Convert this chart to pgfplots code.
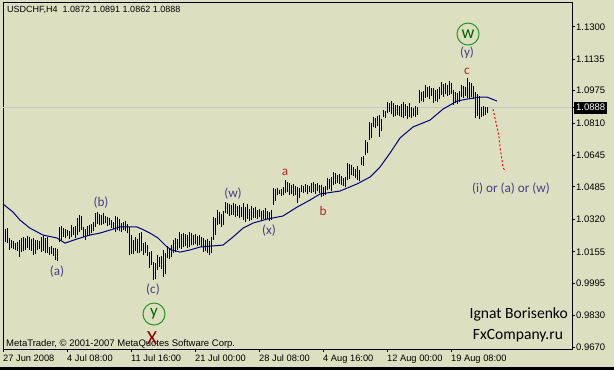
\documentclass[border=0pt]{standalone}
\usepackage{fontspec}
\setmainfont{Liberation Sans}
\newfontfamily\calib{Carlito}
\usepackage{pgfplots}
\pgfplotsset{compat=1.18}
\usepackage{pgfplotstable}
\definecolor{bg}{RGB}{221,224,192}
\definecolor{wave}{RGB}{72,61,139}
\definecolor{wred}{RGB}{178,34,34}
\definecolor{cgreen}{RGB}{34,150,34}
\definecolor{tgreen}{RGB}{0,100,0}
\definecolor{xred}{RGB}{139,0,0}
\definecolor{ma}{RGB}{0,0,128}

\pgfplotstableread{
i lo hi
0 1.0214 1.0265
1 1.0204 1.0270
2 1.0199 1.0275
3 1.0164 1.0225
4 1.0174 1.0214
5 1.0169 1.0209
6 1.0164 1.0199
7 1.0159 1.0204
8 1.0128 1.0214
9 1.0153 1.0225
10 1.0158 1.0230
11 1.0164 1.0225
12 1.0174 1.0235
13 1.0164 1.0230
14 1.0159 1.0220
15 1.0138 1.0225
16 1.0143 1.0214
17 1.0164 1.0214
18 1.0169 1.0209
19 1.0153 1.0230
20 1.0158 1.0235
21 1.0148 1.0225
22 1.0148 1.0230
23 1.0138 1.0179
24 1.0143 1.0184
25 1.0133 1.0174
26 1.0112 1.0174
27 1.0107 1.0169
28 1.0204 1.0281
29 1.0214 1.0286
30 1.0230 1.0275
31 1.0225 1.0270
32 1.0235 1.0265
33 1.0220 1.0260
34 1.0230 1.0291
35 1.0240 1.0281
36 1.0225 1.0286
37 1.0240 1.0326
38 1.0255 1.0342
39 1.0265 1.0337
40 1.0230 1.0281
41 1.0214 1.0270
42 1.0235 1.0286
43 1.0240 1.0291
44 1.0250 1.0296
45 1.0260 1.0306
46 1.0281 1.0352
47 1.0296 1.0357
48 1.0291 1.0347
49 1.0291 1.0342
50 1.0296 1.0352
51 1.0301 1.0337
52 1.0286 1.0331
53 1.0291 1.0326
54 1.0275 1.0316
55 1.0270 1.0306
56 1.0255 1.0337
57 1.0265 1.0331
58 1.0260 1.0321
59 1.0255 1.0301
60 1.0265 1.0306
61 1.0260 1.0311
62 1.0250 1.0296
63 1.0138 1.0281
64 1.0143 1.0240
65 1.0143 1.0214
66 1.0158 1.0230
67 1.0148 1.0220
68 1.0148 1.0250
69 1.0158 1.0255
70 1.0138 1.0199
71 1.0148 1.0204
72 1.0133 1.0189
73 1.0072 1.0153
74 1.0087 1.0158
75 1.0011 1.0102
76 1.0016 1.0097
77 1.0061 1.0138
78 1.0077 1.0128
79 1.0067 1.0133
80 1.0026 1.0164
81 1.0041 1.0148
82 1.0123 1.0184
83 1.0117 1.0174
84 1.0128 1.0189
85 1.0148 1.0214
86 1.0153 1.0225
87 1.0164 1.0220
88 1.0174 1.0255
89 1.0169 1.0245
90 1.0179 1.0250
91 1.0184 1.0245
92 1.0174 1.0240
93 1.0179 1.0255
94 1.0189 1.0250
95 1.0189 1.0240
96 1.0194 1.0245
97 1.0184 1.0235
98 1.0189 1.0240
99 1.0179 1.0230
100 1.0153 1.0225
101 1.0158 1.0214
102 1.0148 1.0220
103 1.0138 1.0209
104 1.0148 1.0230
105 1.0214 1.0331
106 1.0240 1.0326
107 1.0291 1.0367
108 1.0296 1.0357
109 1.0281 1.0347
110 1.0291 1.0362
111 1.0352 1.0408
112 1.0347 1.0403
113 1.0337 1.0398
114 1.0342 1.0393
115 1.0342 1.0403
116 1.0331 1.0398
117 1.0337 1.0388
118 1.0326 1.0393
119 1.0331 1.0382
120 1.0316 1.0403
121 1.0306 1.0382
122 1.0321 1.0398
123 1.0311 1.0372
124 1.0316 1.0388
125 1.0326 1.0377
126 1.0326 1.0382
127 1.0321 1.0367
128 1.0331 1.0372
129 1.0316 1.0362
130 1.0321 1.0367
131 1.0316 1.0377
132 1.0321 1.0362
133 1.0311 1.0357
134 1.0316 1.0367
135 1.0393 1.0479
136 1.0413 1.0474
137 1.0443 1.0479
138 1.0449 1.0469
139 1.0438 1.0474
140 1.0443 1.0484
141 1.0454 1.0520
142 1.0459 1.0510
143 1.0443 1.0505
144 1.0449 1.0494
145 1.0438 1.0500
146 1.0443 1.0489
147 1.0403 1.0484
148 1.0428 1.0479
149 1.0459 1.0494
150 1.0454 1.0489
151 1.0459 1.0500
152 1.0449 1.0494
153 1.0459 1.0489
154 1.0454 1.0505
155 1.0459 1.0510
156 1.0449 1.0500
157 1.0464 1.0505
158 1.0454 1.0494
159 1.0433 1.0494
160 1.0438 1.0484
161 1.0443 1.0489
162 1.0469 1.0530
163 1.0474 1.0525
164 1.0464 1.0535
165 1.0494 1.0561
166 1.0500 1.0556
167 1.0505 1.0545
168 1.0500 1.0550
169 1.0494 1.0540
170 1.0489 1.0530
171 1.0484 1.0535
172 1.0520 1.0606
173 1.0525 1.0601
174 1.0545 1.0596
175 1.0540 1.0586
176 1.0530 1.0576
177 1.0520 1.0591
178 1.0515 1.0570
179 1.0596 1.0637
180 1.0591 1.0642
181 1.0647 1.0723
182 1.0657 1.0713
183 1.0723 1.0815
184 1.0733 1.0810
185 1.0790 1.0840
186 1.0785 1.0835
187 1.0795 1.0845
188 1.0739 1.0851
189 1.0769 1.0830
190 1.0840 1.0876
191 1.0835 1.0871
192 1.0861 1.0917
193 1.0866 1.0912
194 1.0856 1.0922
195 1.0840 1.0912
196 1.0845 1.0902
197 1.0851 1.0902
198 1.0845 1.0897
199 1.0840 1.0907
200 1.0835 1.0917
201 1.0845 1.0907
202 1.0830 1.0897
203 1.0840 1.0912
204 1.0835 1.0891
205 1.0845 1.0886
206 1.0840 1.0896
207 1.0851 1.0891
208 1.0912 1.0978
209 1.0922 1.0968
210 1.0917 1.0973
211 1.0937 1.1003
212 1.0942 1.0993
213 1.0932 1.0998
214 1.0947 1.0988
215 1.0912 1.0988
216 1.0922 1.0978
217 1.0917 1.0983
218 1.0932 1.0993
219 1.0952 1.1019
220 1.0942 1.1008
221 1.0957 1.1013
222 1.0947 1.1003
223 1.0952 1.1024
224 1.0957 1.1013
225 1.0902 1.0978
226 1.0912 1.0968
227 1.0907 1.0963
228 1.0917 1.0973
229 1.0942 1.1003
230 1.0937 1.0998
231 1.0947 1.0993
232 1.0937 1.1039
233 1.0932 1.1019
234 1.0942 1.1013
235 1.0932 1.0998
236 1.0835 1.0968
237 1.0845 1.0958
238 1.0830 1.0947
239 1.0840 1.0891
240 1.0845 1.0896
241 1.0851 1.0891
242 1.0862 1.0891
}\bars

\pgfplotstableread{
i p
0 1.0398
5 1.0357
8.5 1.0316
13.5 1.0275
20 1.0240
27 1.0225
31 1.0199
37 1.0220
43.5 1.0240
48.5 1.0250
58.5 1.0281
67 1.0281
69.5 1.0270
73.5 1.0250
77.5 1.0225
82 1.0179
84.5 1.0164
88.5 1.0153
93.5 1.0164
98.5 1.0179
110 1.0189
115 1.0230
120 1.0275
125 1.0301
132 1.0321
140 1.0337
147 1.0382
153.5 1.0418
158.5 1.0449
168.5 1.0464
177 1.0500
183.5 1.0535
188.5 1.0586
193.5 1.0657
198.5 1.0734
205 1.0790
213.5 1.0825
220 1.0881
227 1.0922
232 1.0932
238.5 1.0942
242 1.0942
247 1.0922
}\mavg

\pgfplotstableread{
i p
245 1.0881
246 1.0835
247 1.0790
248 1.0739
248.5 1.0688
249.5 1.0622
250 1.0581
251.5 1.0566
}\proj

\begin{document}
\begin{tikzpicture}
\path[use as bounding box] (-3bp,-21bp) rectangle (611bp,349bp);
\fill[bg] (-3bp,-21bp) rectangle (611bp,349bp);
\fill[black] (-3bp,-21bp) rectangle (611bp,-18bp);
\begin{axis}[
  at={(0,0)}, anchor=south west,
  scale only axis, width=569bp, height=346bp,
  xmin=0, xmax=284.5, ymin=0.9660, ymax=1.1421,
  clip=false,
  axis line style={black, line width=1bp},
  tick align=outside,
  major tick length=3bp,
  tick style={black, line width=1bp},
  xtick pos=bottom,
  xtick={0,32,64,96,128,160,192,224},
  xticklabels={27 Jun 2008, 4 Jul 08:00, 11 Jul 16:00, 21 Jul 00:00, 28 Jul 08:00, 4 Aug 16:00, 12 Aug 00:00, 19 Aug 08:00},
  xticklabel style={anchor=north west, font=\fontsize{9.3bp}{10bp}\selectfont, inner sep=0pt, yshift=-2.5bp},
  ytick pos=right, yticklabel pos=right,
  ytick={0.9670,0.9830,0.9995,1.0155,1.0320,1.0485,1.0645,1.0810,1.0975,1.1135,1.1300},
  yticklabels={0.9670,0.9830,0.9995,1.0155,1.0320,1.0485,1.0645,1.0810,1.0975,1.1135,1.1300},
  yticklabel style={anchor=west, font=\fontsize{9.5bp}{10bp}\selectfont, inner sep=0pt, xshift=1bp},
  extra y ticks={1.0888},
  extra y tick labels={1.0888},
  extra y tick style={grid=major, major grid style={black!22, line width=1bp},
    yticklabel style={fill=black, text=white, inner xsep=2bp, inner ysep=2.5bp, xshift=-2bp}},
]
\addplot[only marks, mark=*, mark size=0pt, mark options={draw=none, fill=none}, forget plot,
  error bars/.cd, y dir=plus, y explicit,
  error bar style={draw=black, line width=1bp}, error mark=none]
  table[x=i, y=lo, y error expr=\thisrow{hi}-\thisrow{lo}] {\bars};
\addplot[ma, line width=1bp, mark=none] table[x=i, y=p] {\mavg};
\addplot[red, line width=1bp, mark=none, dash pattern=on 2bp off 2bp] table[x=i, y=p] {\proj};

\node[anchor=west, font=\fontsize{9bp}{10bp}\selectfont, inner sep=0pt] at (axis cs:2,1.1385) {USDCHF,H4\ \ 1.0872 1.0891 1.0862 1.0888};
\node[anchor=west, font=\fontsize{9.5bp}{10bp}\selectfont, inner sep=0pt] at (axis cs:1.5,0.9685) {MetaTrader, © 2001-2007 MetaQuotes Software Corp.};

\tikzset{wv/.style={font=\calib\fontsize{13.2bp}{14bp}\selectfont, inner sep=0pt}}
\node[wv, text=wave] at (axis cs:49,1.0403) {(b)};
\node[wv, text=wave] at (axis cs:27,1.0052) {(a)};
\node[wv, text=wave] at (axis cs:75,0.9960) {(c)};
\node[wv, text=wave] at (axis cs:115,1.0449) {(w)};
\node[wv, text=wave] at (axis cs:133,1.0265) {(x)};
\node[wv, text=wave] at (axis cs:232,1.1166) {(y)};
\node[wv, text=wred] at (axis cs:141,1.0561) {a};
\node[wv, text=wred] at (axis cs:160,1.0362) {b};
\node[wv, text=wred] at (axis cs:232,1.1075) {c};
\node[wv, text=wave] at (axis cs:254,1.0474) {(i) or (a) or (w)};
\node[circle, draw=cgreen, line width=1bp, minimum size=22bp, inner sep=0pt, text=tgreen, font=\calib\fontsize{18bp}{18bp}\selectfont] at (axis cs:232.5,1.1263) {w};
\node[circle, draw=cgreen, line width=1bp, minimum size=22bp, inner sep=0pt, text=tgreen, font=\calib\fontsize{17bp}{17bp}\selectfont] at (axis cs:75.5,0.9838) {y};
\node[font=\calib\fontsize{20bp}{20bp}\selectfont, inner sep=0pt, text=xred] at (axis cs:74.5,0.9716) {X};
\node[font=\calib\fontsize{15.6bp}{16bp}\selectfont, inner sep=0pt, anchor=east] at (axis cs:282.5,0.9838) {Ignat Borisenko};
\node[font=\calib\fontsize{15.6bp}{16bp}\selectfont, inner sep=0pt] at (axis cs:257.5,0.9726) {FxCompany.ru};
\end{axis}
\end{tikzpicture}
\end{document}
